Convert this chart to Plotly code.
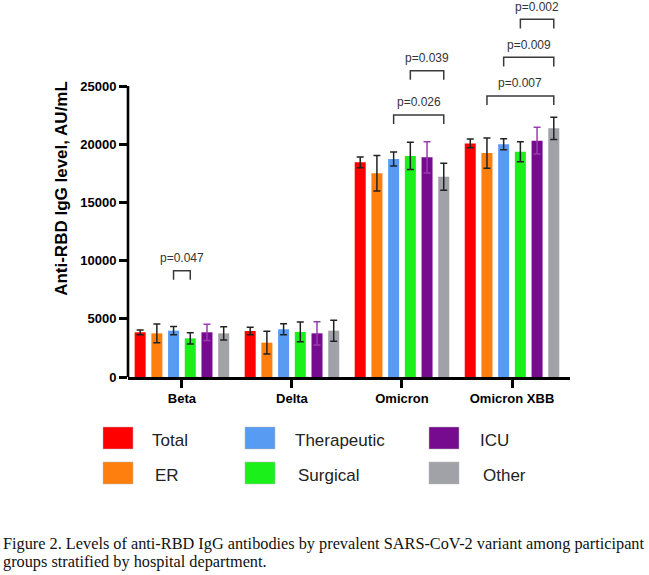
import plotly.graph_objects as go

# ---------------- data ----------------
variants = ["Beta", "Delta", "Omicron", "Omicron XBB"]
groups = ["Total", "ER", "Therapeutic", "Surgical", "ICU", "Other"]
colors = ["#FF0000", "#FF7F0E", "#579CF2", "#1BF01B", "#760B8F", "#A1A1A8"]
err_colors = ["#222222", "#222222", "#222222", "#222222", "#9A3CB0", "#222222"]

total = [3840, 3950, 18440, 20070]
er = [3750, 2950, 17500, 19240]
therapeutic = [3980, 4100, 18730, 19990]
surgical = [3320, 3870, 18990, 19350]
icu = [3840, 3750, 18870, 20300]
other = [3750, 3980, 17210, 21360]

total_err = [200, 330, 470, 380]
er_err = [800, 970, 1530, 1300]
therapeutic_err = [350, 470, 600, 470]
surgical_err = [480, 850, 1170, 860]
icu_err = [700, 1000, 1340, 1150]
other_err = [570, 900, 1160, 950]

values = [total, er, therapeutic, surgical, icu, other]
errors = [total_err, er_err, therapeutic_err, surgical_err, icu_err, other_err]

# significance brackets: variant index, group from, group to, bracket top, label
br_variant = [0, 2, 2, 3, 3, 3]
br_from = [2, 2, 3, 1, 2, 3]
br_to = [3, 5, 5, 5, 5, 5]
br_top = [9130, 22510, 26310, 24140, 27460, 30730]
br_label = ["p=0.047", "p=0.026", "p=0.039", "p=0.007", "p=0.009", "p=0.002"]

y_ticks = [0, 5000, 10000, 15000, 20000, 25000]

# ---------------- layout constants ----------------
W, H = 649, 575
ML, MR, MT, MB = 128, 79, 0, 198
BARGAP = 0.089
BARGROUPGAP = 0.341
X_RANGE = [-0.49, 3.527]
Y_TOP = 25000 * (H - MB - MT) / 291.0
LEG_DROP = 780
LABEL_OFF = 1100
FONT = "Arial, Liberation Sans, sans-serif"

pw = W - ML - MR
ph = H - MT - MB


def px_x(px):
    return (px - ML) / pw


def px_y(py):
    return (H - MB - py) / ph


pitch = (1 - BARGAP) / len(groups)


def bar_x(vi, gi):
    return vi + (gi - (len(groups) - 1) / 2) * pitch


fig = go.Figure()
for gi, g in enumerate(groups):
    fig.add_trace(go.Bar(
        x=list(range(len(variants))), y=values[gi], name=g,
        marker=dict(color=colors[gi], line=dict(width=0)),
        error_y=dict(type="data", array=errors[gi], color=err_colors[gi],
                     thickness=1.5, width=3.5),
        showlegend=False,
    ))

shapes = []
annotations = []
# y-axis line only up to 25000
shapes.append(dict(type="line", xref="paper", yref="y", x0=0, x1=0,
                   y0=0, y1=y_ticks[-1], line=dict(color="black", width=2.6)))

for vi, a, b, top, lab in zip(br_variant, br_from, br_to, br_top, br_label):
    xa, xb = bar_x(vi, a), bar_x(vi, b)
    path = f"M {xa},{top - LEG_DROP} L {xa},{top} L {xb},{top} L {xb},{top - LEG_DROP}"
    shapes.append(dict(type="path", xref="x", yref="y", path=path,
                       line=dict(color="#3a3a3a", width=1.5)))
    annotations.append(dict(x=(xa + xb) / 2, y=top + LABEL_OFF, xref="x", yref="y",
                            text=lab, showarrow=False, yanchor="middle",
                            font=dict(family=FONT, size=12, color="#333333")))

# manual legend (3 columns x 2 rows)
leg_cols_sq = [103, 245, 429]
leg_cols_tx = [150, 293, 478]
leg_rows = [438, 473]
for gi, g in enumerate(groups):
    c, r = gi // 2, gi % 2
    sx = leg_cols_sq[c]
    sy = leg_rows[r]
    shapes.append(dict(type="rect", xref="paper", yref="paper",
                       x0=px_x(sx), x1=px_x(sx + 30), y0=px_y(sy + 11), y1=px_y(sy - 11),
                       fillcolor=colors[gi], line=dict(color="#bbbbbb", width=0.5)))
    annotations.append(dict(x=px_x(leg_cols_tx[c] + (3 if r == 1 else 0)), y=px_y(sy + 2),
                            xref="paper", yref="paper", text=g, showarrow=False,
                            xanchor="left", yanchor="middle",
                            font=dict(family=FONT, size=17, color="#222222")))

caption1 = "Figure 2. Levels of anti-RBD IgG antibodies by prevalent SARS-CoV-2 variant among participant"
caption2 = "groups stratified by hospital department."
for txt, yy in [(caption1, 543), (caption2, 561)]:
    annotations.append(dict(x=px_x(1), y=px_y(yy), xref="paper", yref="paper",
                            text=txt, showarrow=False, xanchor="left", yanchor="middle",
                            font=dict(family="Liberation Serif, Times New Roman, serif",
                                      size=16.3, color="#111111")))

fig.update_layout(
    width=W, height=H,
    margin=dict(l=ML, r=MR, t=MT, b=MB, pad=0),
    paper_bgcolor="white", plot_bgcolor="white",
    barmode="group", bargap=BARGAP, bargroupgap=BARGROUPGAP,
    shapes=shapes, annotations=annotations,
    xaxis=dict(range=X_RANGE, tickmode="array", tickvals=list(range(len(variants))),
               ticktext=[f"<b>{v}</b>" for v in variants],
               showline=True, linecolor="black", linewidth=2.6,
               ticks="outside", ticklen=8, tickwidth=2.6, tickcolor="black",
               showgrid=False, zeroline=False,
               tickfont=dict(family=FONT, size=13, color="black")),
    yaxis=dict(range=[0, Y_TOP], tickmode="array", tickvals=y_ticks,
               ticktext=[f"<b>{t}</b>" for t in y_ticks],
               showline=False, ticks="outside", ticklen=8, tickwidth=2.6,
               tickcolor="black", showgrid=False, zeroline=False,
               tickfont=dict(family=FONT, size=13, color="black"),
               title=dict(text="<b>Anti-RBD IgG level, AU/mL</b>",
                          font=dict(family=FONT, size=17, color="black"),
                          standoff=8)),
    font=dict(family=FONT),
)

fig.write_html("out.html")
